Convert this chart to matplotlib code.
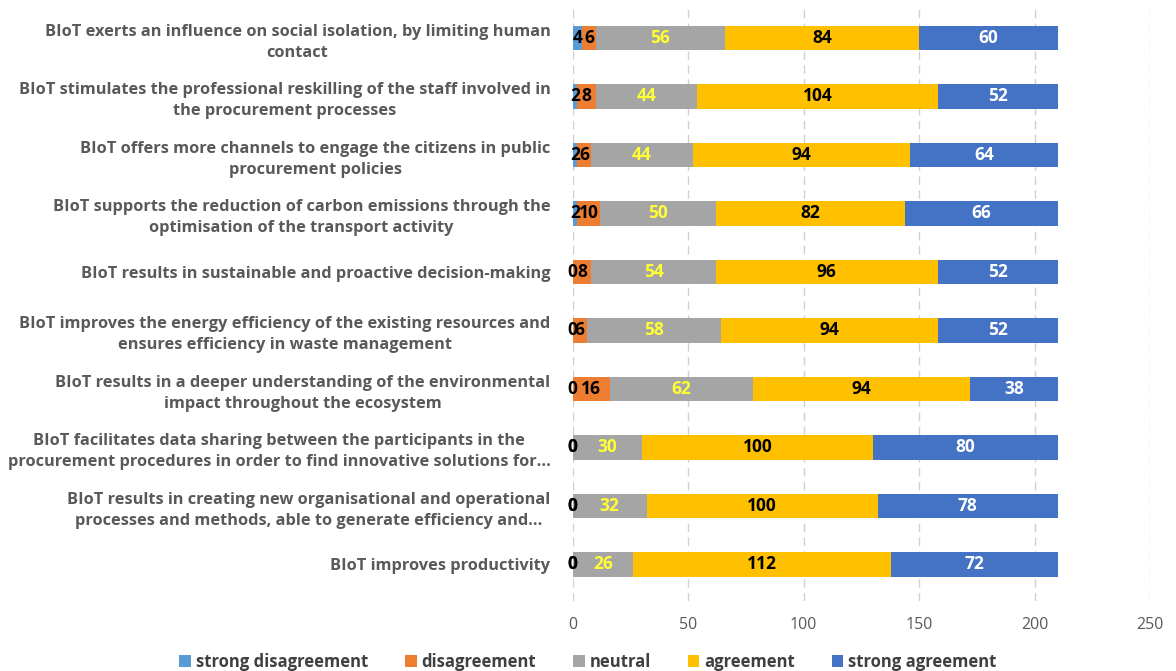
import matplotlib.pyplot as plt
import numpy as np

plt.rcParams['font.family'] = ['Open Sans', 'DejaVu Sans']

labels = [
    "BIoT exerts an influence on social isolation, by limiting human\ncontact",
    "BIoT stimulates the professional reskilling of the staff involved in\nthe procurement processes",
    "BIoT offers more channels to engage the citizens in public\nprocurement policies",
    "BIoT supports the reduction of carbon emissions through the\noptimisation of the transport activity",
    "BIoT results in sustainable and proactive decision-making",
    "BIoT improves the energy efficiency of the existing resources and\nensures efficiency in waste management",
    "BIoT results in a deeper understanding of the environmental\nimpact throughout the ecosystem",
    "BIoT facilitates data sharing between the participants in the\nprocurement procedures in order to find innovative solutions for\u2026",
    "BIoT results in creating new organisational and operational\nprocesses and methods, able to generate efficiency and\u2026",
    "BIoT improves productivity",
]

series = ["strong disagreement", "disagreement", "neutral", "agreement", "strong agreement"]
strong_dis = [4, 2, 2, 2, 0, 0, 0, 0, 0, 0]
dis = [6, 8, 6, 10, 8, 6, 16, 0, 0, 0]
neutral = [56, 44, 44, 50, 54, 58, 62, 30, 32, 26]
agree = [84, 104, 94, 82, 96, 94, 94, 100, 100, 112]
strong_agree = [60, 52, 64, 66, 52, 52, 38, 80, 78, 72]

colors = ["#5B9BD5", "#ED7D31", "#A5A5A5", "#FFC000", "#4472C4"]
text_colors = ["black", "black", "#FFFF33", "black", "white"]

fig = plt.figure(figsize=(11.76, 6.71), dpi=100)
ax = fig.add_axes([0.487, 0.105, 0.491, 0.882])

y = np.arange(len(labels))[::-1]
left = np.zeros(len(labels))
for name, vals, c, tc in zip(series, [strong_dis, dis, neutral, agree, strong_agree], colors, text_colors):
    vals = np.array(vals, dtype=float)
    ax.barh(y, vals, left=left, height=0.42, color=c, label=name, zorder=3)
    for yi, l, v in zip(y, left, vals):
        ax.text(l + v / 2, yi, f"{int(v)}", ha="center", va="center",
                color=tc, fontsize=12.5, fontweight="bold", zorder=4)
    left += vals

ax.set_xlim(0, 250)
ax.set_ylim(-0.62, 9.5)
ax.set_xticks([0, 50, 100, 150, 200, 250])
ax.set_yticks(y)
ax.set_yticklabels(labels, fontsize=11.8, fontweight="bold", color="#595959",
                   multialignment="center", linespacing=1.4)
ax.tick_params(axis="both", length=0, colors="#595959", labelsize=11.5)
ax.tick_params(axis="y", pad=16, labelsize=11.8)
ax.tick_params(axis="x", pad=12)
for s in ax.spines.values():
    s.set_visible(False)
ax.grid(axis="x", color="#D0D0D0", linestyle=(0, (6, 4)), linewidth=1, zorder=0)

leg = fig.legend(loc="lower center", bbox_to_anchor=(0.5, -0.022), ncol=5, frameon=False,
                 fontsize=12, handlelength=0.7, handleheight=0.7, handletextpad=0.3,
                 columnspacing=2.2)
for t in leg.get_texts():
    t.set_color("#404040")
    t.set_fontweight("bold")

fig.savefig("out.png", dpi=100)
